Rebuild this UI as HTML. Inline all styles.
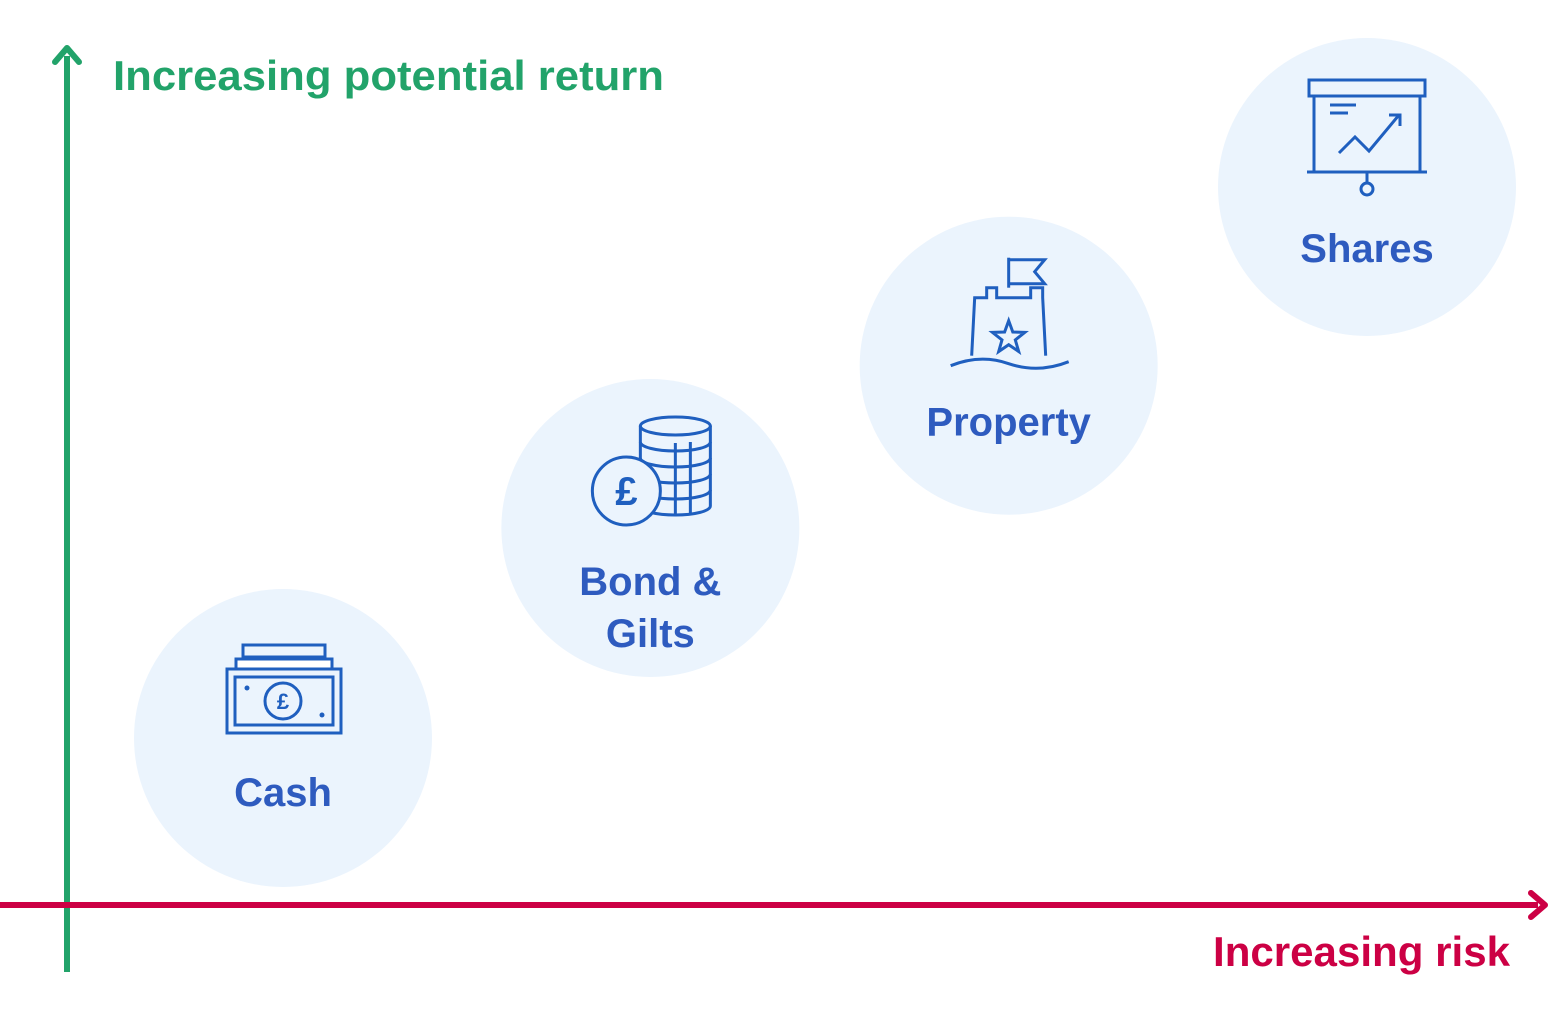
<!DOCTYPE html>
<html><head><meta charset="utf-8"><style>
html,body{margin:0;padding:0;background:#fff;}
svg{display:block;}
text{font-family:"Liberation Sans",sans-serif;font-weight:bold;}
</style></head><body>
<svg id="chart" width="1554" height="1034" viewBox="0 0 1554 1034">
<g>
<line x1="67" y1="972" x2="67" y2="56" stroke="#22a36a" stroke-width="6"/>
<polyline points="55,62 67,48 79,62" fill="none" stroke="#22a36a" stroke-width="6" stroke-linecap="round" stroke-linejoin="round"/>
<text x="113" y="90" font-size="42" fill="#22a36a" textLength="551" lengthAdjust="spacingAndGlyphs">Increasing potential return</text>
</g>
<g>
<line x1="0" y1="905" x2="1538" y2="905" stroke="#cc0044" stroke-width="6"/>
<polyline points="1531,893 1545,905 1531,917" fill="none" stroke="#cc0044" stroke-width="6" stroke-linecap="round" stroke-linejoin="round"/>
<text x="1213" y="966" font-size="42" fill="#cc0044" textLength="297" lengthAdjust="spacingAndGlyphs">Increasing risk</text>
</g>
<g id="marks"></g>
</svg>
<script>
const categories = ["Cash", "Bond & Gilts", "Property", "Shares"];
const riskValues = [1, 2.22, 3.41, 4.6];
const returnValues = [1, 2.41, 3.5, 4.7];
function xScale(v){ return 283 + (v - 1) * (1367 - 283) / 3.6; }
function yScale(v){ return 738 - (v - 1) * (738 - 187) / 3.7; }
const NS = "http://www.w3.org/2000/svg";
const g = document.getElementById("marks");
function mk(tag, attrs, parent){ const e = document.createElementNS(NS, tag); for (const k in attrs) e.setAttribute(k, attrs[k]); parent.appendChild(e); return e; }
const C = "#1f5fbf";
function icon(i, grp, cx, cy){
  const st = {fill:"none", stroke:C, "stroke-width":3};
  if (i === 0){
    mk("rect", Object.assign({x:cx-47,y:cy-79,width:96,height:12,fill:"#fff"}, {stroke:C,"stroke-width":3}), grp);
    mk("rect", Object.assign({x:cx-40,y:cy-93,width:82,height:12}, st), grp);
    mk("rect", Object.assign({x:cx-56,y:cy-69,width:114,height:64,fill:"#ebf4fd",stroke:C,"stroke-width":3}), grp);
    mk("rect", Object.assign({x:cx-48,y:cy-61,width:98,height:48}, st), grp);
    mk("circle", Object.assign({cx:cx,cy:cy-37,r:18}, st), grp);
    const t = mk("text", {x:cx, y:cy-29, "font-size":22, fill:C, "text-anchor":"middle"}, grp); t.textContent = "£";
    mk("circle", {cx:cx-36,cy:cy-50,r:2.5,fill:C}, grp);
    mk("circle", {cx:cx+39,cy:cy-23,r:2.5,fill:C}, grp);
  } else if (i === 1){
    mk("path", Object.assign({d:`M${cx-10},${cy-92} v80 a35,9 0 0 0 70,0 v-80`}, st), grp);
    mk("ellipse", Object.assign({cx:cx+25,cy:cy-92,rx:35,ry:9}, st), grp);
    for (let k=1;k<5;k++) mk("path", Object.assign({d:`M${cx-10},${cy-92+k*16} a35,9 0 0 0 70,0`}, st), grp);
    mk("line", Object.assign({x1:cx+25,y1:cy-75,x2:cx+25,y2:cy-3}, st), grp);
    mk("line", Object.assign({x1:cx+40,y1:cy-76,x2:cx+40,y2:cy-4}, st), grp);
    mk("circle", Object.assign({cx:cx-24,cy:cy-27,r:34,fill:"#ebf4fd",stroke:C,"stroke-width":3}), grp);
    const t = mk("text", {x:cx-24, y:cy-13, "font-size":40, fill:C, "text-anchor":"middle", "font-weight":"normal"}, grp); t.textContent = "£";
  } else if (i === 2){
    mk("path", Object.assign({d:`M${cx-37},${cy-10} L${cx-34},${cy-68} h12 v-10 h10 v10 h34 v-10 h12 v10 L${cx+37},${cy-10}`}, st), grp);
    mk("line", Object.assign({x1:cx,y1:cy-78,x2:cx,y2:cy-108}, st), grp);
    mk("path", Object.assign({d:`M${cx},${cy-106} h36 l-10,12 l10,12 h-36`}, st), grp);
    mk("path", Object.assign({d:`M${cx-58},${cy} q30,-12 58,-2 q30,10 60,-2`}, st), grp);
    const s=[];for(let k=0;k<10;k++){const a=-Math.PI/2+k*Math.PI/5,r=k%2?7:17;s.push((cx+r*Math.cos(a)).toFixed(1)+","+(cy-28+r*Math.sin(a)).toFixed(1));}
    mk("polygon", Object.assign({points:s.join(" ")}, st), grp);
  } else {
    mk("rect", Object.assign({x:cx-58,y:cy-107,width:116,height:16}, st), grp);
    mk("path", Object.assign({d:`M${cx-53},${cy-91} v76 h106 v-76`}, st), grp);
    mk("line", Object.assign({x1:cx-60,y1:cy-15,x2:cx+60,y2:cy-15}, st), grp);
    mk("circle", Object.assign({cx:cx,cy:cy+2,r:6}, st), grp);
    mk("line", Object.assign({x1:cx,y1:cy-15,x2:cx,y2:cy-4}, st), grp);
    mk("path", Object.assign({d:`M${cx-37},${cy-82} h26 M${cx-37},${cy-74} h18 M${cx-28},${cy-34} l16,-16 l14,14 l30,-36 M${cx+22},${cy-72} h11 v11`}, st), grp);
  }
}
categories.forEach((name, i) => {
  const cx = xScale(riskValues[i]), cy = yScale(returnValues[i]);
  const grp = mk("g", {}, g);
  
  
  const c = mk("circle", {cx:cx, cy:cy, r:149, fill:"#ebf4fd"}, grp);
  
  
  const ig = mk("g", {}, grp);
  
  
  const iconY = name === "Bond & Gilts" ? cy - 10 : cy;
  icon(i, ig, cx, iconY);
  const words = name === "Bond & Gilts" ? ["Bond &", "Gilts"] : [name];
  let baseY = name === "Bond & Gilts" ? cy + 67 : cy + 68;
  if (name === "Shares") baseY += 7;
  if (name === "Property") baseY += 2;
  words.forEach((w, k) => {
    const t = mk("text", {x:cx, y:baseY + k*52, "font-size":40, fill:"#2e5bbf", "text-anchor":"middle"}, grp);
    
    
    t.textContent = w;
  });
});
</script>
</body></html>
